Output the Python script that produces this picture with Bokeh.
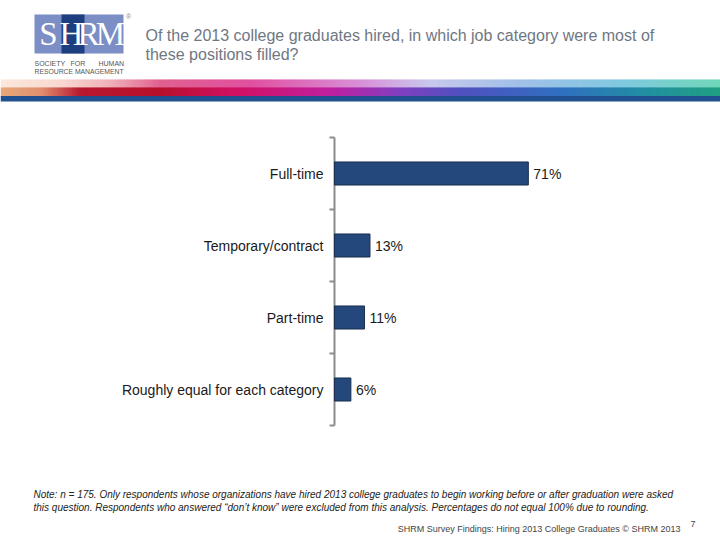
import math
from bokeh.plotting import figure
from bokeh.models import ColumnDataSource, Range1d
from bokeh.core.properties import value
from bokeh.embed import file_html
from bokeh.resources import INLINE

# ---------------- data ----------------
categories = ["Full-time", "Temporary/contract", "Part-time", "Roughly equal for each category"]
percents = [71, 13, 11, 6]
pct_labels = ["71%", "13%", "11%", "6%"]

title_lines = ["Of the 2013 college graduates hired, in which job category were most of",
               "these positions filled?"]
note_lines = ["Note: n = 175. Only respondents whose organizations have hired 2013 college graduates to begin working before or after graduation were asked",
              "this question. Respondents who answered \u201cdon\u2019t know\u201d were excluded from this analysis. Percentages do not equal 100% due to rounding."]
footer_text = "SHRM Survey Findings: Hiring 2013 College Graduates \u00a9 SHRM 2013"
page_number = "7"

# ---------------- layout (page pixels) ----------------
W, H = 720, 540
AX_X = 334            # x of the value axis origin
PX_PER_PCT = 2.73     # horizontal scale
CH_TOP, CH_BOT = 137, 425
FONT = "Liberation Sans"

n = len(categories)
unit = (CH_BOT - CH_TOP) / n
x_range = Range1d(-AX_X / PX_PER_PCT, (W - AX_X) / PX_PER_PCT)
y_range = Range1d(-(H - CH_BOT) / unit, CH_BOT / unit)

p = figure(width=W, height=H, output_backend="svg", toolbar_location=None,
           x_range=x_range, y_range=y_range,
           x_axis_location=None, y_axis_location=None,
           min_border=0, min_border_left=0, min_border_right=0,
           min_border_top=0, min_border_bottom=0)
p.extra_x_ranges = {"px": Range1d(0, W)}
p.extra_y_ranges = {"py": Range1d(H, 0)}
p.outline_line_color = None
p.xgrid.visible = False
p.ygrid.visible = False
p.background_fill_color = "white"
p.border_fill_color = "white"

PX = dict(x_range_name="px", y_range_name="py")


def txt(x, y, s, size, color, font=FONT, style="normal", align="left", baseline="middle"):
    p.text(x=[x], y=[y], text=[s], text_font=value(font), text_font_size=value(size),
           text_color=color, text_font_style=style, text_align=align, text_baseline=baseline, **PX)


# ---------------- header ----------------
txt(145, 34.5, title_lines[0], "16px", "#6f7782")
txt(145, 53.5, title_lines[1], "16px", "#6f7782")

# logo
p.quad(left=[34], right=[123], top=[14], bottom=[53], fill_color="#7b8ec6", line_color=None, **PX)
p.quad(left=[61], right=[84], top=[14], bottom=[53], fill_color="#1d3f80", line_color=None, **PX)
for ch, cx in zip("SHRM", [48, 71, 88, 110]):
    txt(cx, 33.5, ch, "33px", "white", font="Liberation Serif", align="center")
txt(128, 16, "\u00ae", "7px", "#8a8a8a", align="center")
for word, wx in zip(["SOCIETY", "FOR", "HUMAN"], [34, 70, 98]):
    txt(wx, 62.5, word, "7px", "#555555")
txt(34, 70.5, "RESOURCE MANAGEMENT", "6.8px", "#555555")


def hex2rgb(h):
    h = h.lstrip("#")
    return tuple(int(h[i:i + 2], 16) for i in (0, 2, 4))


def lerp_color(stops, x):
    for (x0, c0), (x1, c1) in zip(stops[:-1], stops[1:]):
        if x0 <= x <= x1:
            t = (x - x0) / (x1 - x0)
            a, b = hex2rgb(c0), hex2rgb(c1)
            return "#%02x%02x%02x" % tuple(int(round(a[k] + (b[k] - a[k]) * t)) for k in range(3))
    return stops[-1][1]


# decorative banner
upper = [(0, "#fbe8dc"), (60, "#f8d8d0"), (110, "#f0b0b8"), (160, "#e06090"), (250, "#e050a0"),
         (360, "#d890d8"), (430, "#c8c8ec"), (520, "#a0c0e8"), (620, "#80c8e0"), (720, "#70d8b8")]
lower = [(0, "#e8a878"), (40, "#e09070"), (80, "#b81830"), (160, "#b8102c"), (230, "#d01060"),
         (330, "#c020a0"), (400, "#8040c0"), (460, "#5050c0"), (560, "#3070c0"), (650, "#2090a0"),
         (720, "#20a080")]
step = 3
xs = list(range(0, W, step))
p.quad(left=xs, right=[x + step + 1 for x in xs], top=[79] * len(xs), bottom=[87.5] * len(xs),
       fill_color=[lerp_color(upper, x + step / 2) for x in xs], line_color=None, **PX)
p.quad(left=xs, right=[x + step + 1 for x in xs], top=[87] * len(xs), bottom=[96] * len(xs),
       fill_color=[lerp_color(lower, x + step / 2) for x in xs], line_color=None, **PX)
p.quad(left=[0], right=[W], top=[95.5], bottom=[101], fill_color="#20508e", line_color=None, **PX)

# ---------------- chart (data scales) ----------------
pos = [n - i - 0.5 for i in range(n)]
bounds = list(range(n + 1))
source = ColumnDataSource(dict(cat=categories, val=percents, pos=pos, lab=pct_labels))

# category axis: line, outward ticks at category boundaries, labels at centres
p.segment(x0=0, y0=0, x1=0, y1=n, line_color="#8c8c8c", line_width=2)
p.ray(x=[0] * len(bounds), y=bounds, length=5, length_units="screen", angle=math.pi,
      line_color="#8c8c8c", line_width=2)
p.text(x=0, y="pos", text="cat", source=source, x_offset=-11, text_align="right",
       text_baseline="middle", text_font=value(FONT), text_font_size=value("14px"),
       text_color="#1a1a1a")

p.hbar(y="pos", right="val", left=0, height=0.32, source=source,
       fill_color="#24487b", line_color="#1a2f50", line_width=1)
p.text(x="val", y="pos", text="lab", source=source, x_offset=5, text_align="left",
       text_baseline="middle", text_font=value(FONT), text_font_size=value("14px"),
       text_color="#1a1a1a")

# ---------------- footer ----------------
txt(33, 494, note_lines[0], "10px", "#222222", style="italic")
txt(33, 507, note_lines[1], "10px", "#222222", style="italic")
txt(680, 528, footer_text, "9px", "#444444", align="right")
txt(690, 523, page_number, "9px", "#444444")

open("out.html", "w").write(file_html(p, INLINE))
